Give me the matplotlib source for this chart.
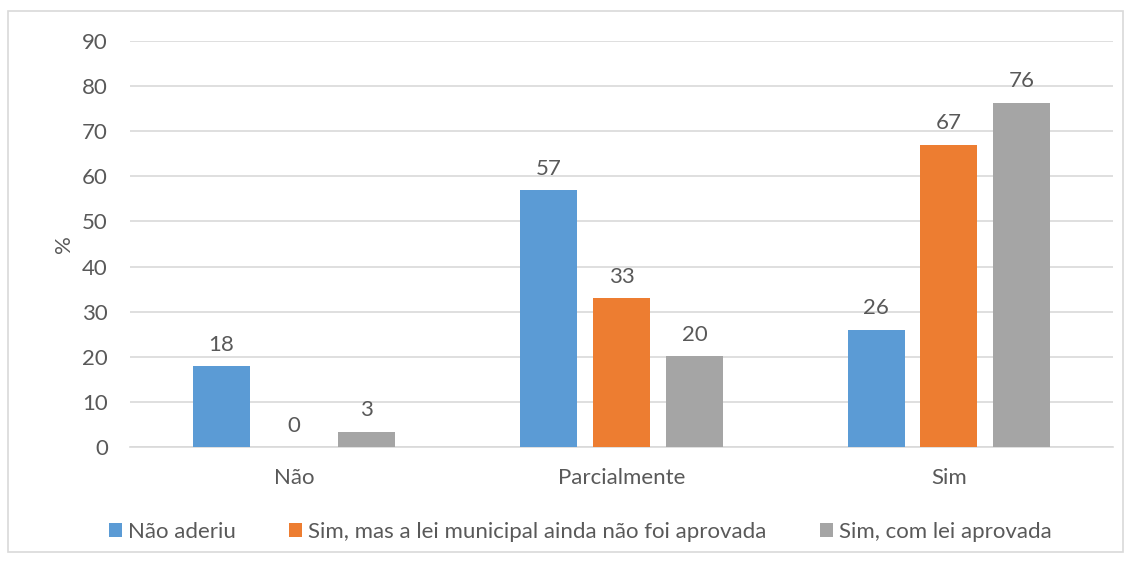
import numpy as np
import matplotlib.pyplot as plt
from matplotlib.patches import Rectangle

plt.rcParams['font.family'] = ['Lato', 'DejaVu Sans']

# dados
categorias = ["Não", "Parcialmente", "Sim"]
series = ["Não aderiu", "Sim, mas a lei municipal ainda não foi aprovada", "Sim, com lei aprovada"]
nao_aderiu = [18, 57, 26]
sim_sem_lei = [0, 33, 67]
sim_com_lei = [3.4, 20.2, 76.3]
cores = ["#5B9BD5", "#ED7D31", "#A5A5A5"]

texto = "#595959"
fig = plt.figure(figsize=(11.32, 5.61), dpi=100)
ax = fig.add_axes([0.115, 0.203, 0.868, 0.724])

# moldura do gráfico
fig.patches.append(Rectangle((8 / 1132, 9 / 561), 1115 / 1132, 541 / 561,
                             transform=fig.transFigure, fill=False,
                             edgecolor="#D9D9D9", linewidth=1.2))

x = np.arange(len(categorias))
largura = 0.174
passo = 0.2226
for i, (valores, nome) in enumerate(zip([nao_aderiu, sim_sem_lei, sim_com_lei], series)):
    pos = x + (i - 1) * passo
    ax.bar(pos, valores, width=largura, color=cores[i], label=nome, zorder=3)
    for p, v in zip(pos, valores):
        ax.text(p, v + 2.5, f"{v:.0f}", ha="center", va="bottom", fontsize=16, color=texto)

ax.set_xlim(-0.5, 2.5)
ax.set_ylim(0, 90)
ax.set_yticks(range(0, 91, 10))
ax.set_xticks(x)
ax.set_xticklabels(categorias)
ax.tick_params(axis="both", length=0, labelsize=16, colors=texto)
ax.tick_params(axis="y", pad=16)
ax.tick_params(axis="x", pad=15)
ax.grid(axis="y", color="#D9D9D9", linewidth=1.2, zorder=0)
for s in ["top", "right", "left"]:
    ax.spines[s].set_visible(False)
ax.spines["bottom"].set_color("#D9D9D9")
ax.spines["bottom"].set_linewidth(1.2)
ax.set_ylabel("%", fontsize=16, color=texto, labelpad=6)

ax.legend(loc="upper center", bbox_to_anchor=(0.458, -0.135), ncol=3, frameon=False,
          fontsize=16, labelcolor=texto, handlelength=0.6, handleheight=0.6,
          handletextpad=0.25, columnspacing=2.4)

fig.savefig("out.png", dpi=100)
